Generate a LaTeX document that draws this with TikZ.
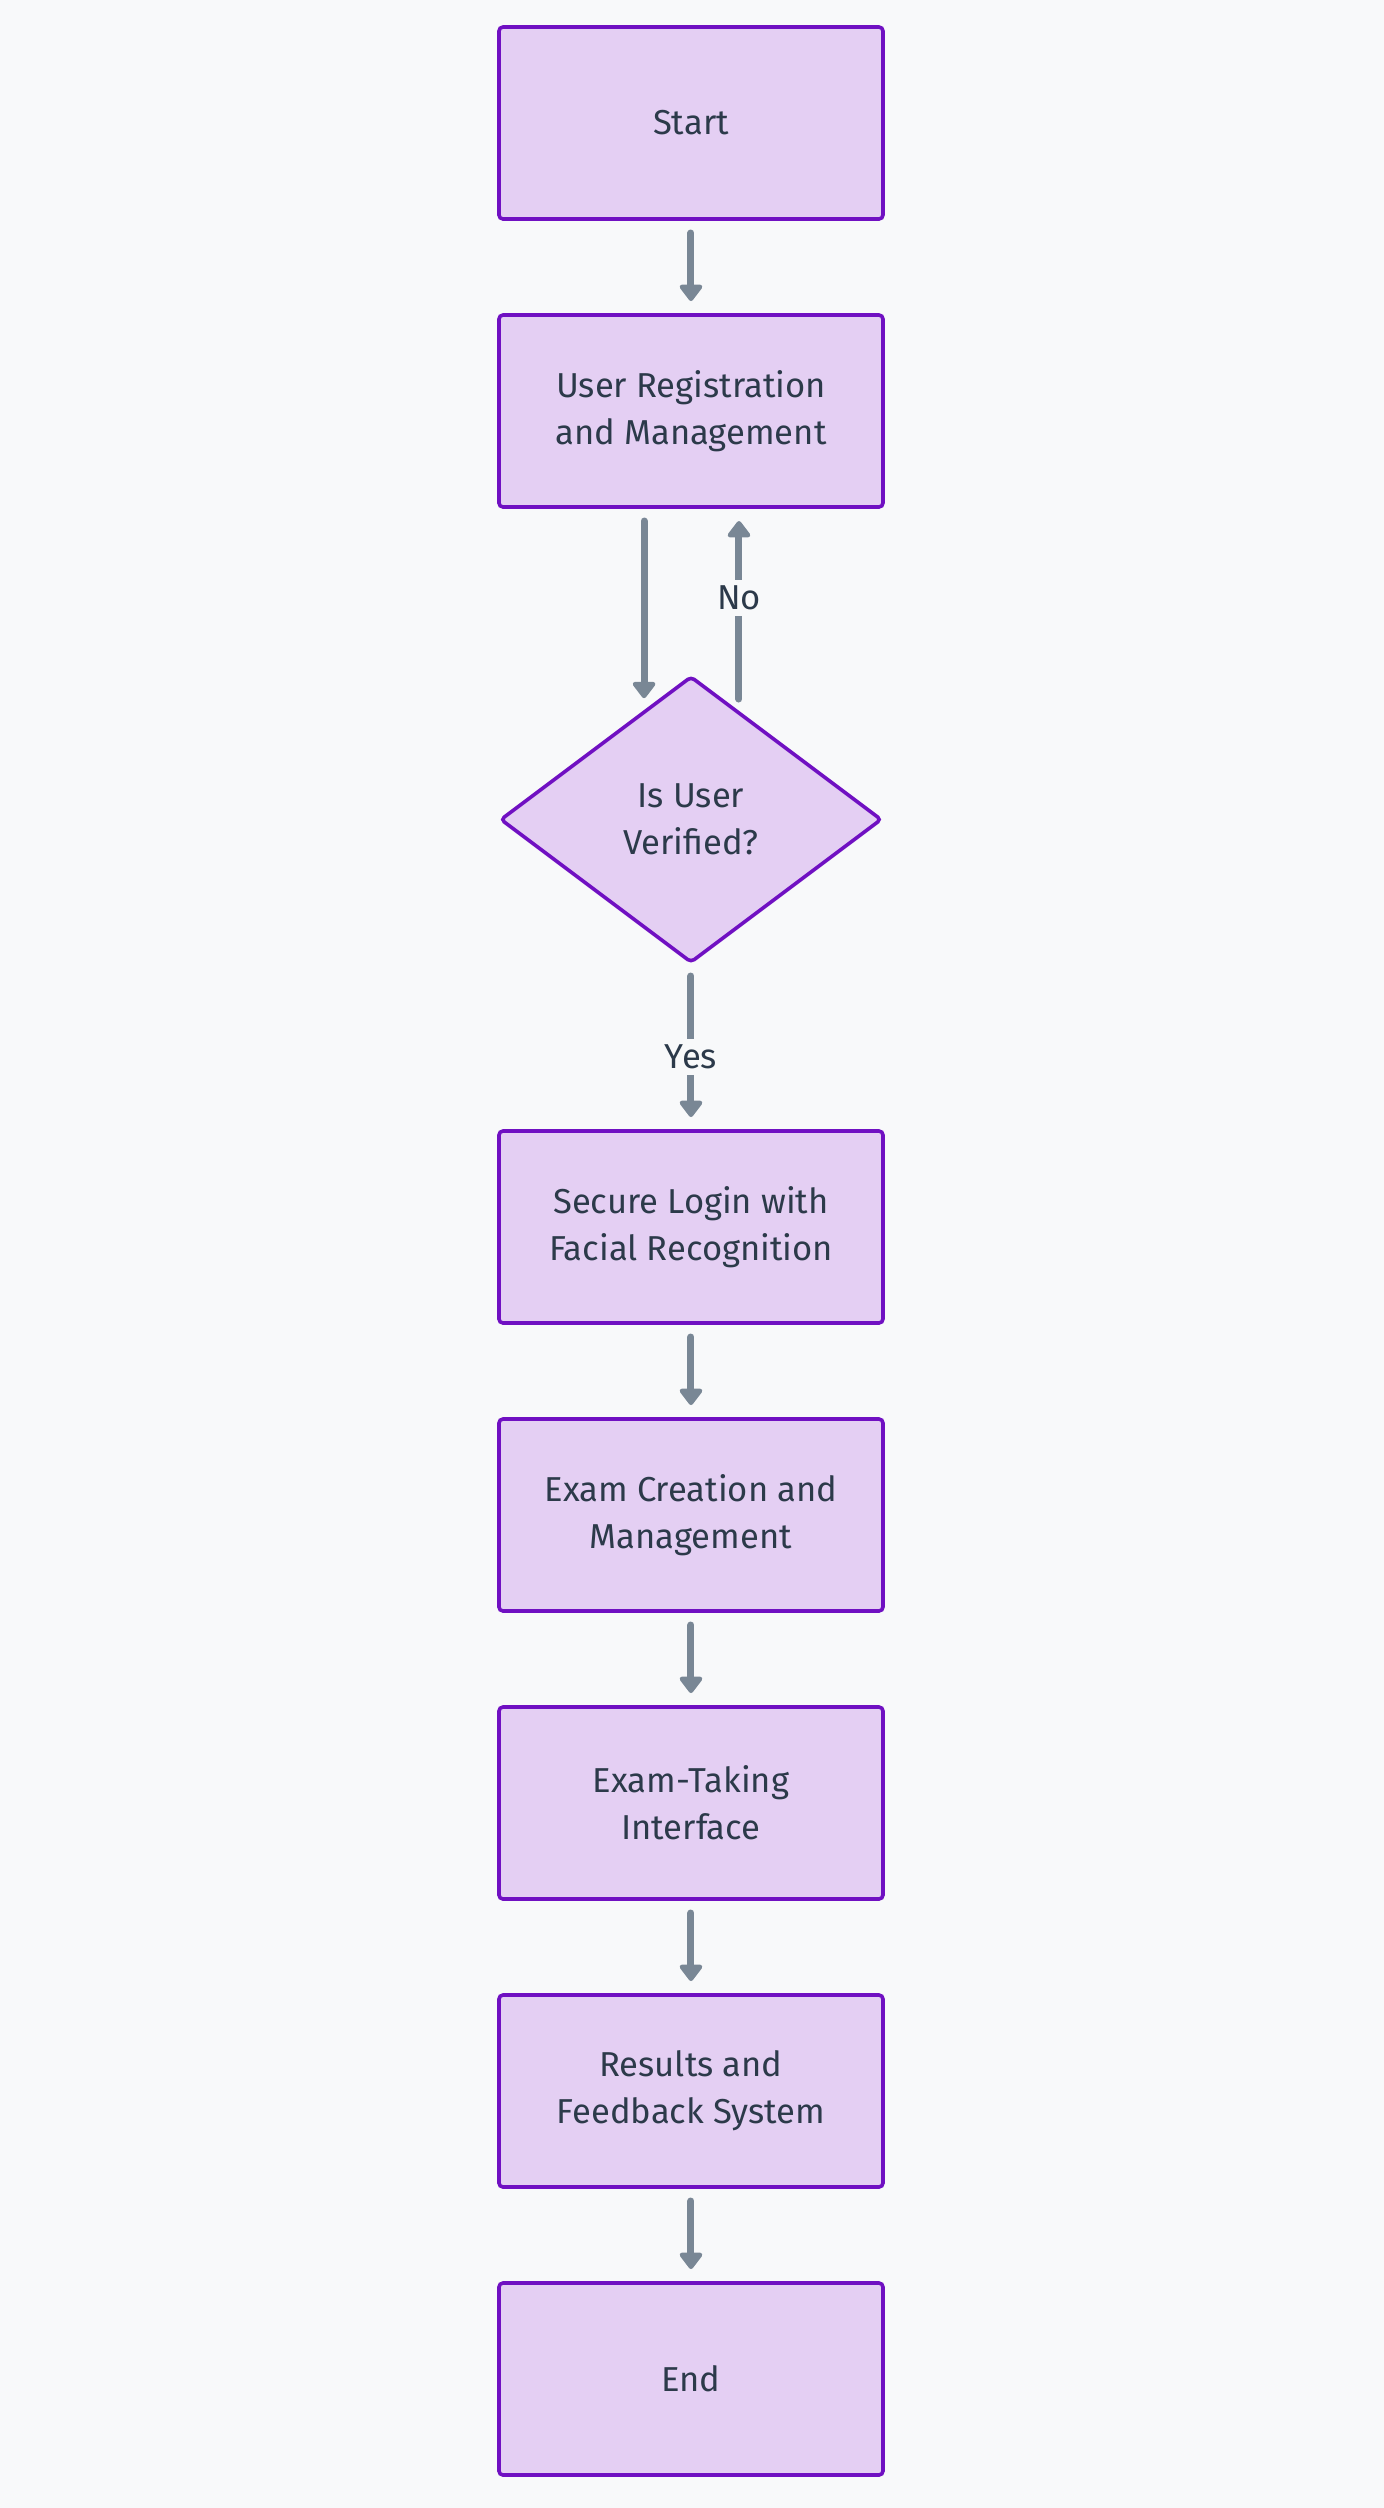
\documentclass[tikz,border=0pt]{standalone}
\usepackage{fontspec}
\setmainfont{Fira Sans}
\usetikzlibrary{arrows.meta}
\usetikzlibrary{shapes.geometric}
\usetikzlibrary{positioning}
\usetikzlibrary{calc}
\definecolor{bg}{HTML}{F8F9FA}
\definecolor{boxfill}{HTML}{E4CFF3}
\definecolor{boxline}{HTML}{7010C2}
\definecolor{arrowgray}{HTML}{798795}
\definecolor{textdark}{HTML}{2C3A4A}

\begin{document}
\begin{tikzpicture}[->,
                    >={Triangle[width=13pt,length=9pt,round]},
                    line width=3.5pt,
                    line cap=round,
                    shorten >=7pt,
                    shorten <=7pt,
                    node distance=48pt,
                    nbox/.style={rectangle,draw=boxline,fill=boxfill,line width=1.8pt,rounded corners=2pt,
                                 minimum width=192pt,minimum height=96pt,outer sep=0pt,align=center,
                                 text=textdark,font=\fontsize{17.3}{23.5}\selectfont},
                    ndec/.style={diamond,draw=boxline,fill=boxfill,line width=1.8pt,rounded corners=2pt,
                                 minimum width=190pt,minimum height=142.5pt,inner sep=0pt,outer sep=0pt,
                                 align=center,text=textdark,font=\fontsize{17.3}{23.5}\selectfont},
                    lbl/.style={fill=bg,text=textdark,inner sep=3pt,font=\fontsize{17.3}{20}\selectfont},
                    flow/.style={draw=arrowgray}
                    ]
  \fill[bg] (-345.5pt,61.5pt) rectangle (346.5pt,-1192.5pt);
  \useasboundingbox (-345.5pt,61.5pt) rectangle (346.5pt,-1192.5pt);
  \node[nbox] (1) {Start};
  \node[nbox] (2) [below=of 1]{User Registration\\ and Management};
  \node[ndec] (3) [below=85pt of 2]{Is User\\ Verified?};
  \node[nbox] (4) [below=84.5pt of 3]{Secure Login with\\ Facial Recognition};
  \node[nbox] (5) [below=of 4]{Exam Creation and\\ Management};
  \node[nbox] (6) [below=of 5]{Exam-Taking\\ Interface};
  \node[nbox] (7) [below=of 6]{Results and\\ Feedback System};
  \node[nbox] (8) [below=of 7]{End};
  % points where the two loop edges meet the diamond
  \coordinate (3in) at ($(3.north)!0.247!(3.west)$);
  \coordinate (3out) at ($(3.north)!0.2526!(3.east)$);
  \draw [flow] (1) -- (2);
  \draw [flow] (2.south -| 3in) -- (3in);
  \draw [flow] (3out) -- node[lbl,pos=0.56] {No} (2.south -| 3out);
  \draw [flow] (3) -- node[lbl,pos=0.56] {Yes} (4);
  \draw [flow] (4) -- (5);
  \draw [flow] (5) -- (6);
  \draw [flow] (6) -- (7);
  \draw [flow] (7) -- (8);
\end{tikzpicture}
\end{document}
